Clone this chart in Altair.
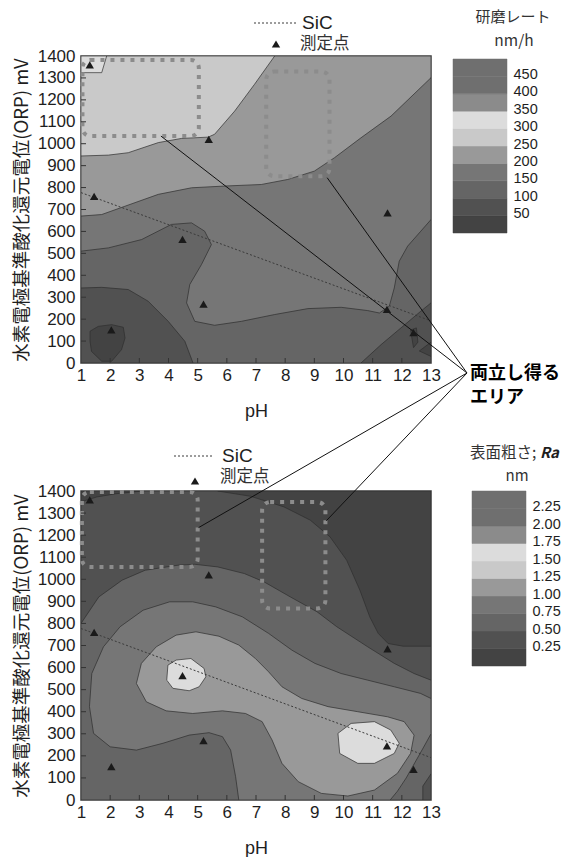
import altair as alt
import pandas as pd

NUM_FONT = "Liberation Sans, Arial, sans-serif"
JP_FONT = "Noto Sans CJK JP, Noto Sans, sans-serif"

# ---------------- shared data ----------------
ph_ticks = list(range(1, 14))
orp_ticks = list(range(0, 1401, 100))

meas_ph = [1.30, 1.45, 5.38, 4.48, 5.20, 2.04, 11.51, 11.49, 12.40]
meas_orp = [1360, 760, 1020, 564, 269, 151, 685, 245, 139]

sic_ph = [1.0, 13.0]
sic_orp = [777, 192]

# legend bands (bottom -> top)
band_colors = ["#434343", "#515151", "#656565", "#767676", "#999999",
               "#c9c9c9", "#dcdcdc", "#8b8b8b", "#6f6f6f", "#6f6f6f"]
rate_lo = [0, 50, 100, 150, 200, 250, 300, 350, 400, 450]
rate_labels = [50, 100, 150, 200, 250, 300, 350, 400, 450]
ra_lo = [0.0, 0.25, 0.5, 0.75, 1.0, 1.25, 1.5, 1.75, 2.0, 2.25]
ra_labels = [0.25, 0.5, 0.75, 1.0, 1.25, 1.5, 1.75, 2.0, 2.25]

# ---------------- 研磨レート contour regions ----------------
rate_bg_ph = [1, 13, 13, 1, 1]
rate_bg_orp = [0, 0, 1400, 1400, 0]
rate_mid_ph = [1.0, 1.71, 2.51, 3.65, 4.79, 5.93, 7.18, 8.09, 9.00, 9.69, 10.60, 11.63, 13.0, 13.0, 1.0, 1.0]
rate_mid_orp = [670, 677, 715, 769, 799, 807, 814, 837, 875, 936, 1027, 1126, 1301, 0, 0, 670]
rate_low_ph = [1.0, 1.94, 3.08, 4.10, 4.79, 5.24, 5.47, 5.13, 4.73, 4.62, 4.90, 5.58, 6.50, 7.64, 8.78,
               9.92, 10.83, 11.23, 11.57, 11.74, 11.91, 12.20, 12.65, 13.0, 13.0, 1.0, 1.0]
rate_low_orp = [510, 525, 563, 632, 639, 601, 540, 449, 358, 274, 190, 172, 190, 221, 248,
                254, 239, 228, 259, 342, 464, 533, 601, 654, 0, 0, 510]
rate_dl_ph = [1.0, 1.71, 2.62, 3.30, 3.99, 4.56, 4.84, 1.0, 1.0]
rate_dl_orp = [342, 345, 335, 282, 190, 99, 0, 0, 342]
rate_dr_ph = [10.60, 11.29, 11.97, 12.65, 13.0, 13.0, 10.60]
rate_dr_orp = [0, 84, 160, 236, 274, 0, 0]
rate_m1_ph = [1.31, 1.59, 2.05, 2.45, 2.51, 2.39, 2.05, 1.71, 1.36, 1.31, 1.31]
rate_m1_orp = [145, 167, 175, 163, 114, 61, 8, 8, 53, 99, 145]
rate_m2_ph = [12.30, 12.50, 12.55, 12.40, 12.30]
rate_m2_orp = [150, 160, 95, 70, 150]
rate_m3_ph = [12.60, 13.0, 13.0, 12.60]
rate_m3_orp = [55, 95, 30, 55]
rate_hi_ph = [1.0, 1.94, 2.62, 3.65, 4.44, 5.36, 5.58, 6.27, 6.95, 7.64, 1.0, 1.0]
rate_hi_orp = [944, 948, 959, 1005, 1024, 1030, 1043, 1149, 1271, 1400, 1400, 944]
rate_pk_ph = [1.0, 1.88, 1.71, 1.0, 1.0]
rate_pk_orp = [1400, 1400, 1324, 1324, 1400]

rate_regions = [
    (rate_bg_ph, rate_bg_orp, 4), (rate_mid_ph, rate_mid_orp, 3), (rate_low_ph, rate_low_orp, 2),
    (rate_dl_ph, rate_dl_orp, 1), (rate_dr_ph, rate_dr_orp, 1), (rate_m1_ph, rate_m1_orp, 0),
    (rate_m2_ph, rate_m2_orp, 0), (rate_m3_ph, rate_m3_orp, 0), (rate_hi_ph, rate_hi_orp, 5),
    (rate_pk_ph, rate_pk_orp, 6),
]

# ---------------- 表面粗さ contour regions ----------------
ra_bg_ph = [1, 13, 13, 1, 1]
ra_bg_orp = [0, 0, 1400, 1400, 0]
ra_tl_ph = [1.0, 1.0, 1.54, 2.22, 3.13, 1.0]
ra_tl_orp = [1400, 1351, 1373, 1388, 1400, 1400]
ra_tr_ph = [5.69, 6.82, 7.96, 8.86, 9.54, 10.11, 10.56, 10.90, 11.19, 11.53, 12.04, 13.0, 13.0, 5.69]
ra_tr_orp = [1400, 1376, 1328, 1268, 1192, 1086, 951, 830, 755, 709, 697, 697, 1400, 1400]
ra_low_ph = [1.0, 1.61, 2.41, 3.20, 4.33, 4.90, 5.69, 6.60, 7.28, 8.18, 9.09, 9.77, 10.83, 11.74,
             12.42, 13.0, 13.0, 1.0, 1.0]
ra_low_orp = [800, 920, 996, 1041, 1064, 1068, 1056, 1026, 988, 920, 853, 785, 694, 619,
              573, 543, 0, 0, 800]
ra_ring_ph = [6.41, 6.30, 6.13, 5.85, 5.39, 4.71, 3.81, 2.90, 2.00, 1.43, 1.29, 1.37, 1.77, 2.34,
              3.13, 4.04, 4.83, 5.62, 6.53, 7.43, 8.23, 9.02, 9.92, 10.83, 11.74, 12.64, 13.0,
              13.0, 12.75, 12.45, 12.15, 11.85, 11.60, 6.41]
ra_ring_orp = [0, 106, 226, 287, 305, 294, 257, 226, 241, 302, 423, 573, 694, 785,
               860, 898, 898, 875, 830, 755, 679, 619, 573, 543, 513, 483, 460,
               300, 240, 170, 100, 40, 0, 0]
ra_blob_ph = [2.90, 3.07, 3.58, 4.26, 4.94, 5.73, 6.41, 6.98, 7.43, 7.89, 8.57, 9.47, 10.49, 11.51,
              12.08, 12.42, 12.30, 11.85, 11.06, 10.15, 9.24, 8.45, 7.89, 7.55, 7.21, 6.64, 5.85,
              4.83, 3.92, 3.24, 2.90]
ra_blob_orp = [528, 619, 694, 747, 762, 742, 702, 641, 581, 513, 460, 423, 400, 377,
               355, 294, 211, 121, 45, 18, 30, 83, 166, 272, 355, 392, 404,
               392, 404, 445, 528]
ra_sp1_ph = [3.98, 4.26, 4.77, 5.22, 5.28, 5.05, 4.71, 4.15, 3.94, 3.98]
ra_sp1_orp = [611, 634, 641, 596, 558, 513, 495, 506, 543, 611]
ra_sp2_ph = [9.81, 10.26, 11.06, 11.62, 11.91, 11.74, 11.06, 10.49, 9.87, 9.81]
ra_sp2_orp = [302, 347, 355, 317, 257, 211, 166, 166, 211, 302]
ra_cn_ph = [12.72, 12.72, 13.0, 13.0, 12.72]
ra_cn_orp = [0, 63, 118, 0, 0]

ra_regions = [
    (ra_bg_ph, ra_bg_orp, 1), (ra_tl_ph, ra_tl_orp, 0), (ra_tr_ph, ra_tr_orp, 0),
    (ra_low_ph, ra_low_orp, 2), (ra_ring_ph, ra_ring_orp, 3), (ra_blob_ph, ra_blob_orp, 4),
    (ra_sp1_ph, ra_sp1_orp, 6), (ra_sp2_ph, ra_sp2_orp, 6), (ra_cn_ph, ra_cn_orp, 1),
]

# dotted "compatible area" boxes: pH from/to, ORP from/to
rate_box_ph = [1.05, 7.35]
rate_box_ph2 = [5.04, 9.52]
rate_box_orp = [1035, 852]
rate_box_orp2 = [1382, 1329]
ra_box_ph = [1.03, 7.21]
ra_box_ph2 = [5.00, 9.38]
ra_box_orp = [1056, 868]
ra_box_orp2 = [1396, 1350]

# annotation leader lines: start points on the boxes
rate_ann_ph = [3.74, 9.44]
rate_ann_orp = [1035, 845]
ra_ann_ph = [5.03, 9.41]
ra_ann_orp = [1234, 1265]

ann_lines = ["両立し得る", "エリア"]

W = 350
H1 = 307
H2 = 309

XS = alt.Scale(domain=[1, 13], nice=False, zero=False)
YS = alt.Scale(domain=[0, 1400], nice=False, zero=False)

AX_X = alt.Axis(values=ph_ticks, format="d", labelFont=NUM_FONT, labelFontSize=17, labelColor="#1e1e1e",
                labelPadding=4, labelFlush=False, labelOverlap=False, ticks=False, domain=False, grid=False,
                titleFont="Liberation Sans, Arial, sans-serif", titleFontSize=18, titleFontWeight="normal",
                titleColor="#1e1e1e", titlePadding=19)


def ax_y(title_x, h):
    return alt.Axis(values=orp_ticks, format="d", labelFont=NUM_FONT, labelFontSize=17,
                    labelColor="#1e1e1e", labelPadding=6, labelFlush=False, labelOverlap=False,
                    ticks=False, domain=False, grid=False, titleFont=JP_FONT, titleFontSize=18.5,
                    titleFontWeight="normal", titleColor="#1e1e1e", titleX=title_x, titleY=h / 2,
                    titleAlign="center", titleBaseline="middle")


def one(**kw):
    return pd.DataFrame({k: [v] for k, v in kw.items()})


def contour_plot(regions, box, ann_ph, ann_orp, ann_end, h, title_x, leg, extra_text=None):
    X = alt.X("pH:Q", scale=XS, axis=AX_X, title="pH")
    Y = alt.Y("ORP:Q", scale=YS, axis=ax_y(title_x, h), title="水素電極基準酸化還元電位(ORP) mV")
    layers = []
    for ph, orp, b in regions:
        df = pd.DataFrame({"pH": ph, "ORP": orp, "i": list(range(len(ph)))})
        layers.append(
            alt.Chart(df).mark_line(fill=band_colors[b], stroke="#2e2e2e", strokeWidth=0.7,
                                    strokeJoin="round", clip=True)
            .encode(x=X, y=Y, order="i:Q"))
    sic = pd.DataFrame({"pH": sic_ph, "ORP": sic_orp})
    layers.append(alt.Chart(sic).mark_line(color="#3a3a3a", strokeWidth=1, strokeDash=[2, 2])
                  .encode(x=X, y=Y))
    bx = pd.DataFrame({"pH": box[0], "pH2": box[1], "ORP": box[2], "ORP2": box[3]})
    layers.append(alt.Chart(bx).mark_rect(fill="transparent", stroke="#8c8c8c", strokeWidth=4,
                                          strokeDash=[4, 6], cornerRadius=8)
                  .encode(x=X, x2="pH2:Q", y=Y, y2="ORP2:Q"))
    ann = pd.DataFrame({"pH": ann_ph, "ORP": ann_orp})
    layers.append(alt.Chart(ann).mark_rule(color="#111111", strokeWidth=1, clip=False)
                  .encode(x=X, y=Y, x2=alt.value(ann_end[0]), y2=alt.value(ann_end[1])))
    pts = pd.DataFrame({"pH": meas_ph, "ORP": meas_orp})
    layers.append(alt.Chart(pts).mark_point(shape="triangle-up", filled=True, size=70,
                                            color="#1a1a1a", opacity=1)
                  .encode(x=X, y=Y))
    xt = pd.DataFrame({"pH": ph_ticks[1:-1]})
    layers.append(alt.Chart(xt).mark_rule(color="#333333")
                  .encode(x=X, y=alt.value(h), y2=alt.value(h - 5)))
    yt = pd.DataFrame({"ORP": orp_ticks[1:-1]})
    layers.append(alt.Chart(yt).mark_rule(color="#333333")
                  .encode(y=Y, x=alt.value(0), x2=alt.value(5)))
    # in-chart key (SiC / 測定点)
    lx0, lx1, ly, tx, px, py, mx, my = leg
    layers.append(alt.Chart(one(a=0)).mark_rule(color="#3a3a3a", strokeDash=[2, 2])
                  .encode(x=alt.value(lx0), x2=alt.value(lx1), y=alt.value(ly)))
    layers.append(alt.Chart(one(t="SiC")).mark_text(align="left", baseline="middle", font=NUM_FONT,
                                                    fontSize=19, color="#1e1e1e")
                  .encode(x=alt.value(tx), y=alt.value(ly), text="t:N"))
    layers.append(alt.Chart(one(a=0)).mark_point(shape="triangle-up", filled=True, size=70,
                                                 color="#1a1a1a", opacity=1)
                  .encode(x=alt.value(px), y=alt.value(py)))
    layers.append(alt.Chart(one(t="測定点")).mark_text(align="left", baseline="middle", font=JP_FONT,
                                                    fontSize=16.5, color="#333333")
                  .encode(x=alt.value(mx), y=alt.value(my), text="t:N"))
    if extra_text is not None:
        for k, t in enumerate(extra_text[0]):
            layers.append(alt.Chart(one(t=t)).mark_text(align="left", baseline="middle", font=JP_FONT,
                                                        fontSize=18, fontWeight="bold", color="#000000")
                          .encode(x=alt.value(extra_text[1]), y=alt.value(extra_text[2] + 24 * k),
                                  text="t:N"))
    return alt.layer(*layers).properties(width=W, height=h)


def legend_chart(lo, step, labels, fmt, h, rng, x0, texts):
    df = pd.DataFrame({"lo": lo, "hi": [v + step for v in lo], "c": band_colors})
    ys = alt.Scale(domain=[lo[0], lo[-1] + step], range=rng, nice=False, zero=False)
    ax = alt.Axis(orient="right", values=labels, format=fmt, labelFont=NUM_FONT, labelFontSize=14.5,
                  labelColor="#1e1e1e", labelPadding=6, labelOffset=-2, labelOverlap=False,
                  labelFlush=False, ticks=False, domain=False, grid=False)
    bars = alt.Chart(df).mark_rect(strokeWidth=0.5).encode(
        x=alt.value(x0), x2=alt.value(x0 + 54),
        y=alt.Y("lo:Q", scale=ys, axis=ax, title=""), y2="hi:Q",
        fill=alt.Fill("c:N", scale=None, legend=None),
        stroke=alt.Stroke("c:N", scale=None, legend=None))
    layers = [bars]
    for t, x, y, align, size, style, weight, color in texts:
        layers.append(alt.Chart(one(t=t)).mark_text(align=align, baseline="middle", font=JP_FONT,
                                                    fontSize=size, fontStyle=style, fontWeight=weight,
                                                    color=color)
                      .encode(x=alt.value(x + x0), y=alt.value(y), text="t:N"))
    return alt.layer(*layers).properties(width=x0 + 54, height=h,
                                         view=alt.ViewBackground(stroke="transparent"))


top = contour_plot(rate_regions, (rate_box_ph, rate_box_ph2, rate_box_orp, rate_box_orp2),
                   rate_ann_ph, rate_ann_orp, (386, 317), H1, -60,
                   (173, 216, -33, 221, 195, -12, 219, -12),
                   extra_text=(ann_lines, 389, 318))
bottom = contour_plot(ra_regions, (ra_box_ph, ra_box_ph2, ra_box_orp, ra_box_orp2),
                      ra_ann_ph, ra_ann_orp, (386, -118), H2, -60,
                      (93, 133, -35, 141, 114, -10, 139, -14))

leg1 = legend_chart(rate_lo, 50, rate_labels, "d", 177, [177, 3], 0,
                    [("研磨レート", 60, -39, "center", 15, "normal", "normal", "#333333"),
                     ("nm/h", 61, -15, "center", 15.5, "normal", "normal", "#333333")])
leg2 = legend_chart(ra_lo, 0.25, ra_labels, ".2f", 175, [175, 0], 19,
                    [("表面粗さ;", -2, -38, "left", 15.5, "normal", "normal", "#333333"),
                     ("Ra", 68, -38, "left", 15, "italic", "bold", "#1e1e1e"),
                     ("nm", 45, -15, "center", 15, "normal", "normal", "#333333")])

chart = (alt.concat(top, leg1, bottom, leg2, columns=2, bounds="flush",
                    spacing=alt.RowColnumber(row=128, column=22))
         .properties(padding={"left": 3, "top": 1, "right": 0, "bottom": 0}, background="white")
         .configure_view(stroke="#3a3a3a", strokeWidth=1.5))

chart.save("out.html", embed_options={"renderer": "svg", "actions": False})
